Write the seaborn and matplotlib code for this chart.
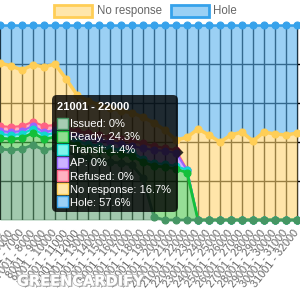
import numpy as np
import pandas as pd
import matplotlib
matplotlib.use("Agg")
import matplotlib.pyplot as plt
import seaborn as sns
from matplotlib.patches import FancyBboxPatch, Polygon, Rectangle
import matplotlib.patheffects as pe

# ---------------- data ----------------
labels = ["4001 - 5000", "5001 - 6000", "6001 - 7000", "7001 - 8000", "8001 - 9000",
          "9001 - 10000", "10001 - 11000", "11001 - 12000", "12001 - 13000", "13001 - 14000",
          "14001 - 15000", "15001 - 16000", "16001 - 17000", "17001 - 18000", "18001 - 19000",
          "19001 - 20000", "20001 - 21000", "21001 - 22000", "22001 - 23000", "23001 - 24000",
          "24001 - 25000", "25001 - 26000", "26001 - 27000", "27001 - 28000", "28001 - 29000",
          "29001 - 30000", "30001 - 31000", "31001 - 32000"]
issued = [36.4, 35.9, 36.4, 38.5, 35.9, 36.9, 34.9, 33.3, 31.8, 30.8, 29.7, 29.2, 28.2, 21.5,
          1.5, 0, 0, 0, 0, 0, 0, 0, 0, 0, 0, 0, 0, 0]
ready = [5.6, 5.6, 5.6, 6.2, 5.6, 5.6, 5.6, 5.1, 5.1, 5.1, 5.1, 4.6, 4.6, 8.2,
         26.2, 27.2, 26.2, 24.3, 0, 0, 0, 0, 0, 0, 0, 0, 0, 0]
transit = [2.1, 2.1, 2.1, 2.1, 2.1, 2.1, 2.1, 2.1, 2.1, 2.1, 2.1, 2.1, 2.1, 1.5,
           1.5, 1.5, 1.5, 1.4, 0, 0, 0, 0, 0, 0, 0, 0, 0, 0]
ap = [1.5, 1.5, 1.5, 1.5, 1.5, 1.5, 2.1, 2.6, 3.1, 3.1, 3.1, 3.1, 3.1, 5.6,
      6.7, 6.7, 6.7, 0, 0, 0, 0, 0, 0, 0, 0, 0, 0, 0]
refused = [2.6, 2.6, 2.6, 2.1, 3.1, 2.6, 2.6, 2.6, 2.6, 2.6, 2.6, 2.6, 2.6, 2.6,
           2.1, 1.5, 1.5, 0, 0, 0, 0, 0, 0, 0, 0, 0, 0, 0]
no_response = [32.3, 31.3, 28.7, 29.2, 30.3, 31.3, 25.1, 18.5, 16.4, 15.4, 14.9, 14.4, 14.4, 13.3,
               11.8, 9.2, 5.1, 16.7, 46.7, 43.6, 40.0, 43.6, 45.1, 40.5, 45.1, 44.1, 43.6, 44.6]
hole = [19.5, 21.0, 23.1, 20.4, 21.5, 20.0, 27.6, 35.8, 38.9, 40.9, 42.5, 44.0, 45.0, 47.3,
        50.2, 53.9, 59.0, 57.6, 53.3, 56.4, 60.0, 56.4, 54.9, 59.5, 54.9, 55.9, 56.4, 55.4]

series_names = ["Issued", "Ready", "Transit", "AP", "Refused", "No response", "Hole"]
series_vals = [issued, ready, transit, ap, refused, no_response, hole]

tooltip_title = "21001 - 22000"
tooltip_values = ["0%", "24.3%", "1.4%", "0%", "0%", "16.7%", "57.6%"]

# ---------------- style ----------------
sns.set_style("white")
plt.rcParams["font.family"] = ["Liberation Sans", "DejaVu Sans"]

line_colors = ["#469664", "#14c03a", "#10d8d0", "#9966ff", "#ff6384", "#ffce56", "#36a2eb"]
fill_colors = [(100/255, 165/255, 120/255), (80/255, 200/255, 80/255), (80/255, 230/255, 222/255),
               (172/255, 130/255, 1.0), (1.0, 122/255, 155/255), (1.0, 213/255, 113/255),
               (88/255, 177/255, 238/255)]
swatch_fill = ["#a6ccb2", "#8fdc8f", "#80f5ea", "#ccb2ff", "#ffb1c1", "#ffe6aa", "#9ad0f5"]
line_widths = [2.0, 2.0, 1.5, 1.5, 1.5, 2.5, 1.8]

W, H = 300, 300
fig = plt.figure(figsize=(3, 3), dpi=100)
top_px, bot_px = 25, 220
ax = fig.add_axes([0, (H - bot_px) / H, 1, (bot_px - top_px) / H])

x = np.arange(len(labels))
df = pd.DataFrame({name: vals for name, vals in zip(series_names, series_vals)})
df["idx"] = x
cum = df[series_names].cumsum(axis=1)

lower = np.zeros(len(x))
for i, name in enumerate(series_names):
    upper = cum[name].to_numpy()
    ax.fill_between(x, lower, upper, color=fill_colors[i], alpha=0.6, lw=0, zorder=2)
    lower = upper

for i in reversed(range(len(series_names))):
    name = series_names[i]
    d = pd.DataFrame({"idx": x, "y": cum[name].to_numpy()})
    sns.lineplot(data=d, x="idx", y="y", ax=ax, color=line_colors[i], lw=line_widths[i],
                 marker="o", markersize=5, markeredgewidth=0.8,
                 markeredgecolor=line_colors[i], markerfacecolor=line_colors[i],
                 clip_on=False, zorder=3 + (len(series_names) - i) * 0.1, legend=False)

ax.set_xlim(0, W / 11)
ax.set_ylim(0, 100)
ax.set_xticks(x)
ax.set_xticklabels(labels, rotation=52, ha="right", va="center", rotation_mode="anchor",
                   fontsize=7.8, color="#666666")
ax.set_yticks([0, 20, 40, 60, 80, 100])
ax.set_yticklabels([])
ax.tick_params(axis="x", length=4, width=1, color=(0, 0, 0, 0.12), pad=4)
ax.tick_params(axis="y", length=0)
ax.grid(True, color=(0, 0, 0, 0.1), lw=1, zorder=1)
ax.set_axisbelow(True)
ax.set_xlabel("")
ax.set_ylabel("")
for s in ax.spines.values():
    s.set_visible(False)

# ---------------- overlay (legend, tooltip, watermark) ----------------
ov = fig.add_axes([0, 0, 1, 1], zorder=10)
ov.set_xlim(0, W)
ov.set_ylim(H, 0)
ov.axis("off")
ov.patch.set_alpha(0)

# legend (last two visible items)
ov.add_patch(Rectangle((53.5, 4.5), 38, 12, fc="#ffe6aa", ec="#ffce56", lw=2))
ov.text(97, 11, "No response", fontsize=8.3, color="#666666", va="center", ha="left")
ov.add_patch(Rectangle((170.5, 4.5), 38, 12, fc="#9ad0f5", ec="#36a2eb", lw=2))
ov.text(213, 11, "Hole", fontsize=8.3, color="#666666", va="center", ha="left")

# tooltip
ov.add_patch(FancyBboxPatch((52, 95), 126, 117, boxstyle="round,pad=0,rounding_size=5",
                            fc=(0, 0, 0, 0.8), ec="none"))
ov.add_patch(Polygon([(178, 147), (183.5, 152.5), (178, 158)], closed=True,
                     fc=(0, 0, 0, 0.8), ec="none"))
ov.text(57, 106.7, tooltip_title, fontsize=8, color="white", fontweight="bold",
        va="center", ha="left")
for k, name in enumerate(series_names):
    yc = 124 + 13.05 * k
    ov.add_patch(Rectangle((57, yc - 6), 11, 11, fc=swatch_fill[k], ec=line_colors[k], lw=1))
    ov.text(70.5, yc + 0.3, f"{name}: {tooltip_values[k]}", fontsize=8, color="white",
            va="center", ha="left")

# watermark
ov.text(17, 281, "GREENCARDIFY", fontsize=10.5, fontweight="bold", color="white",
        family="DejaVu Sans", va="center", ha="left", alpha=0.95,
        path_effects=[pe.SimplePatchShadow(offset=(1, -1), shadow_rgbFace="#8a8a8a", alpha=0.7),
                      pe.withStroke(linewidth=1.2, foreground="#b5b5b5"), pe.Normal()])

fig.savefig("out.png", dpi=100)
